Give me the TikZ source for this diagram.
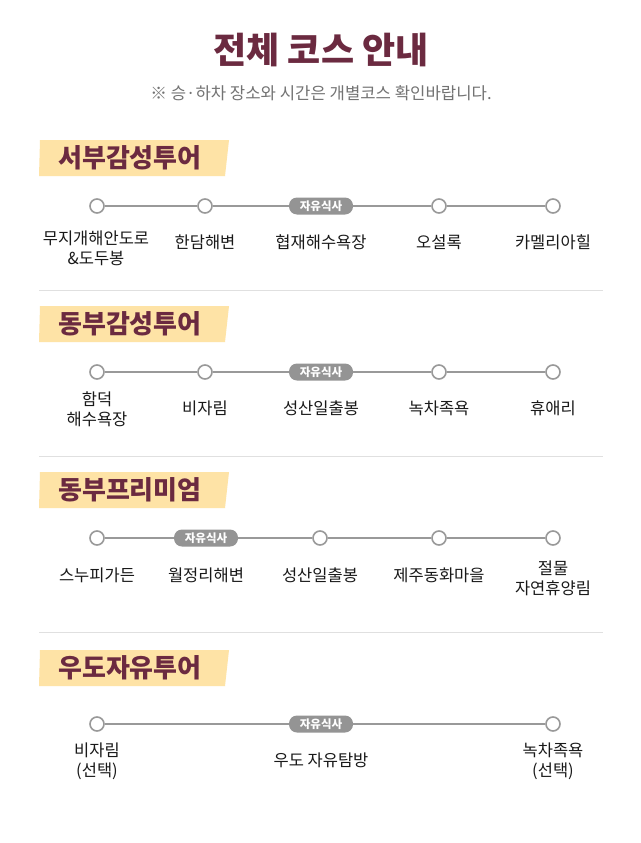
\documentclass[tikz,border=0pt]{standalone}
\usepackage{fontspec}
\setmainfont{Noto Sans CJK KR}
\begin{document}
\begin{tikzpicture}[x=1pt,y=-1pt,
  stop/.style={circle,draw=black!40,fill=white,line width=1.6pt,minimum size=14pt,inner sep=0pt},
  pill/.style={rounded corners=8pt,fill=black!42,text=white,font=\fontsize{11.5}{12}\selectfont\bfseries,minimum height=17pt,minimum width=64pt,inner sep=0pt},
  lbl/.style={font=\fontsize{16.5}{20}\selectfont,align=center,text=black!90},
  conn/.style={draw=black!40,line width=1.6pt},
  bantxt/.style={font=\fontsize{26}{28}\selectfont\bfseries,text=maroon},
  sep/.style={draw=black!12,line width=0.8pt}]
\definecolor{maroon}{HTML}{6B2A40}
\useasboundingbox[fill=white] (0,0) rectangle (640,843);
\node[font=\fontsize{36}{38}\selectfont\bfseries,text=maroon] (title) at (321,50) {전체 코스 안내};
\node[font=\fontsize{16.7}{18}\selectfont,text=black!55] (sub) at (321,93) {※ 승·하차 장소와 시간은 개별코스 확인바랍니다.};
\newcommand{\banner}[3]{%
  \fill[fill={rgb,255:red,254;green,227;blue,166}] (40,#1) -- (229,#1) -- (225,#1+36) -- (39,#1+36) -- cycle;
  \node[bantxt,anchor=west,inner sep=0pt] (#3) at (58,#1+18) {#2};}
% Section 1
\banner{140}{서부감성투어}{b1}
\node[stop] (a1) at (97,206) {};
\node[stop] (a2) at (205,206) {};
\node[pill] (a3) at (321,206) {자유식사};
\node[stop] (a4) at (439,206) {};
\node[stop] (a5) at (553,206) {};
\draw[conn] (a1)--(a2); \draw[conn] (a2)--(a3); \draw[conn] (a3)--(a4); \draw[conn] (a4)--(a5);
\node[lbl] (l11) at (96,248) {무지개해안도로\\\&도두봉};
\node[lbl] (l12) at (205,242) {한담해변};
\node[lbl] (l13) at (321,242) {협재해수욕장};
\node[lbl] (l14) at (439,242) {오설록};
\node[lbl] (l15) at (553,242) {카멜리아힐};
\draw[sep] (39,290) -- (603,290);
% Section 2
\banner{306}{동부감성투어}{b2}
\node[stop] (c1) at (97,372) {};
\node[stop] (c2) at (205,372) {};
\node[pill] (c3) at (321,372) {자유식사};
\node[stop] (c4) at (439,372) {};
\node[stop] (c5) at (553,372) {};
\draw[conn] (c1)--(c2); \draw[conn] (c2)--(c3); \draw[conn] (c3)--(c4); \draw[conn] (c4)--(c5);
\node[lbl] (l21) at (97,409) {함덕\\해수욕장};
\node[lbl] (l22) at (205,408) {비자림};
\node[lbl] (l23) at (321,408) {성산일출봉};
\node[lbl] (l24) at (439,408) {녹차족욕};
\node[lbl] (l25) at (553,408) {휴애리};
\draw[sep] (39,456) -- (603,456);
% Section 3
\banner{472}{동부프리미엄}{b3}
\node[stop] (d1) at (97,538) {};
\node[pill] (d2) at (206,538) {자유식사};
\node[stop] (d3) at (320,538) {};
\node[stop] (d4) at (439,538) {};
\node[stop] (d5) at (553,538) {};
\draw[conn] (d1)--(d2); \draw[conn] (d2)--(d3); \draw[conn] (d3)--(d4); \draw[conn] (d4)--(d5);
\node[lbl] (l31) at (97,575) {스누피가든};
\node[lbl] (l32) at (206,575) {월정리해변};
\node[lbl] (l33) at (320,575) {성산일출봉};
\node[lbl] (l34) at (439,575) {제주동화마을};
\node[lbl] (l35) at (553,578) {절물\\자연휴양림};
\draw[sep] (39,632) -- (603,632);
% Section 4
\banner{650}{우도자유투어}{b4}
\node[stop] (e1) at (97,724) {};
\node[pill] (e2) at (321,724) {자유식사};
\node[stop] (e3) at (553,724) {};
\draw[conn] (e1)--(e2); \draw[conn] (e2)--(e3);
\node[lbl] (l41) at (97,761) {비자림\\(선택)};
\node[lbl] (l42) at (321,760) {우도 자유탐방};
\node[lbl] (l43) at (553,761) {녹차족욕\\(선택)};
\end{tikzpicture}
\end{document}
